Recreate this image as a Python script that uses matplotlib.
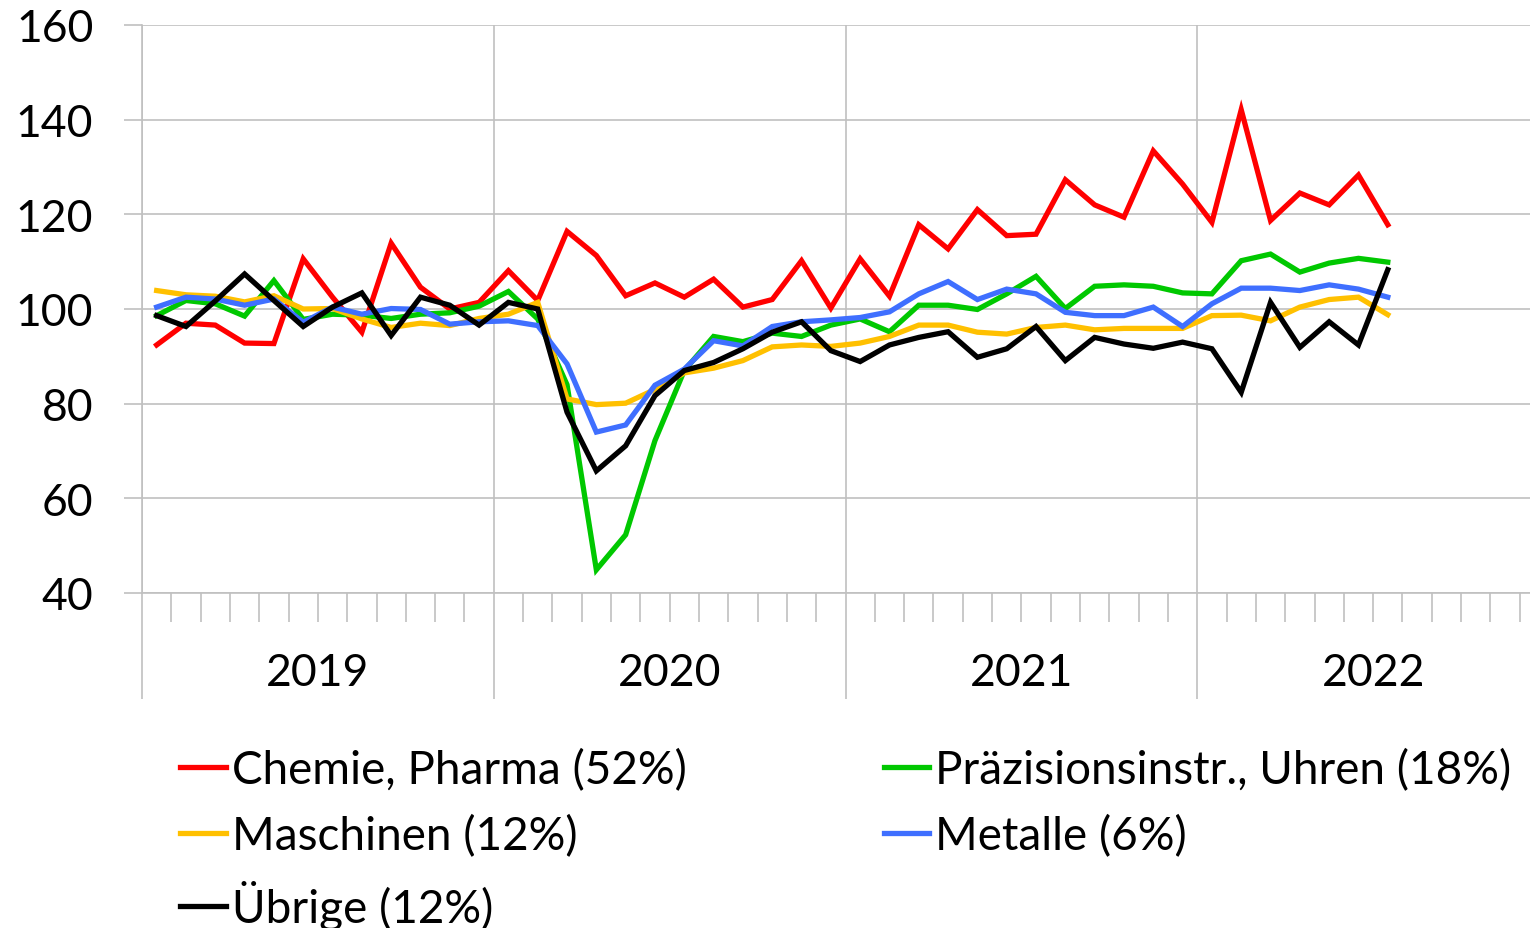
import matplotlib
matplotlib.use('Agg')
import matplotlib.pyplot as plt
import matplotlib.transforms as mtransforms
import numpy as np

plt.rcParams['font.family'] = ['Lato', 'DejaVu Sans']

# monthly index, Jan 2019 - Jul 2022
years = ['2019', '2020', '2021', '2022']
chemie = [92.4, 97.0, 96.6, 92.8, 92.7, 110.6, 102.5, 95.1, 113.9, 104.6, 100.0, 101.4,
          108.1, 101.8, 116.4, 111.3, 102.8, 105.5, 102.5, 106.3, 100.4, 102.0, 110.2, 100.2,
          110.6, 102.7, 117.8, 112.7, 121.0, 115.5, 115.8, 127.3, 122.0, 119.4, 133.4, 126.4,
          118.3, 142.1, 118.7, 124.5, 122.0, 128.3, 117.8]
praezision = [98.6, 101.8, 101.1, 98.5, 106.0, 97.8, 98.9, 98.7, 98.0, 98.9, 99.2, 100.6,
              103.7, 97.9, 84.0, 44.9, 52.3, 72.2, 87.0, 94.2, 93.1, 94.9, 94.2, 96.6,
              97.9, 95.2, 100.8, 100.8, 99.9, 103.2, 106.9, 100.1, 104.8, 105.1, 104.8, 103.4,
              103.2, 110.2, 111.6, 107.8, 109.7, 110.7, 109.9]
maschinen = [103.9, 103.0, 102.7, 101.5, 102.8, 100.0, 100.1, 97.9, 96.1, 97.0, 96.5, 98.0,
             98.9, 101.4, 81.0, 79.8, 80.1, 83.0, 86.5, 87.5, 89.1, 92.0, 92.4, 92.1,
             92.8, 94.2, 96.6, 96.6, 95.1, 94.7, 96.1, 96.6, 95.6, 95.9, 95.9, 95.9,
             98.6, 98.7, 97.5, 100.4, 102.0, 102.5, 98.8]
metalle = [100.4, 102.5, 102.1, 100.8, 102.1, 97.2, 100.4, 98.9, 100.1, 99.9, 96.8, 97.3,
           97.5, 96.5, 88.4, 74.0, 75.5, 83.9, 87.3, 93.3, 92.2, 96.3, 97.3, 97.7,
           98.2, 99.4, 103.2, 105.8, 102.0, 104.2, 103.2, 99.3, 98.6, 98.6, 100.4, 96.3,
           101.1, 104.4, 104.4, 103.9, 105.1, 104.2, 102.5]
uebrige = [98.6, 96.3, 101.7, 107.4, 101.8, 96.3, 100.4, 103.4, 94.4, 102.5, 100.8, 96.6,
           101.4, 100.0, 78.2, 65.8, 71.1, 81.7, 87.0, 88.7, 91.6, 95.1, 97.3, 91.2,
           88.9, 92.4, 94.0, 95.2, 89.8, 91.6, 96.3, 89.1, 94.0, 92.6, 91.7, 93.0,
           91.6, 82.4, 101.4, 91.9, 97.3, 92.4, 108.3]

labels = ['Chemie, Pharma (52%)', 'Präzisionsinstr., Uhren (18%)', 'Maschinen (12%)',
          'Metalle (6%)', 'Übrige (12%)']
series = [chemie, praezision, maschinen, metalle, uebrige]
colors = ['#FF0000', '#00C800', '#FFC000', '#3F6FFF', '#000000']

grid_col = '#C0C0C0'
fs = 32

fig = plt.figure(figsize=(15.30, 9.29), dpi=100)
ax = fig.add_axes([142 / 1530, 1 - 594 / 929, (1549 - 142) / 1530, (594 - 26) / 929])

x = np.arange(len(chemie)) + 0.5
lines = {}
for lab, s, c in zip(labels, series, colors):
    lines[lab], = ax.plot(x, s, color=c, lw=3.8, solid_joinstyle='miter', label=lab)

ax.set_xlim(0, 48)
ax.set_ylim(40, 160)
ax.set_yticks(np.arange(40, 161, 20))
ax.tick_params(axis='y', length=13, width=1.2, color=grid_col, labelsize=fs, pad=22)
ax.yaxis.grid(True, color=grid_col, lw=1.2)
ax.set_axisbelow(True)

# month ticks (short) and year separators (long)
ax.set_xticks(np.arange(0, 49, 12))
ax.set_xticks(np.arange(0, 49, 1), minor=True)
ax.tick_params(axis='x', which='major', length=76, width=1.2, color=grid_col, labelbottom=False)
ax.tick_params(axis='x', which='minor', length=21, width=1.2, color=grid_col)
ax.xaxis.grid(True, which='major', color=grid_col, lw=1.2)

for sp in ['top', 'right']:
    ax.spines[sp].set_visible(False)
ax.spines['left'].set_color(grid_col)
ax.spines['left'].set_linewidth(1.2)
ax.spines['bottom'].set_color(grid_col)
ax.spines['bottom'].set_linewidth(1.2)

trans = mtransforms.blended_transform_factory(ax.transData, ax.transAxes)
for i, yr in enumerate(years):
    ax.text(i * 12 + 6, -0.14, yr, transform=trans, ha='center', va='center', fontsize=fs)

order = [labels[0], labels[2], labels[4], labels[1], labels[3]]
leg = fig.legend([lines[l] for l in order], order, loc='upper left',
                 bbox_to_anchor=(162 / 1530, 1 - 731 / 929), ncol=2, frameon=False,
                 fontsize=33, handlelength=1.0, handletextpad=0.12, columnspacing=4.3,
                 labelspacing=0.5, borderaxespad=0)

plt.savefig('out.png', dpi=100)
plt.close()
